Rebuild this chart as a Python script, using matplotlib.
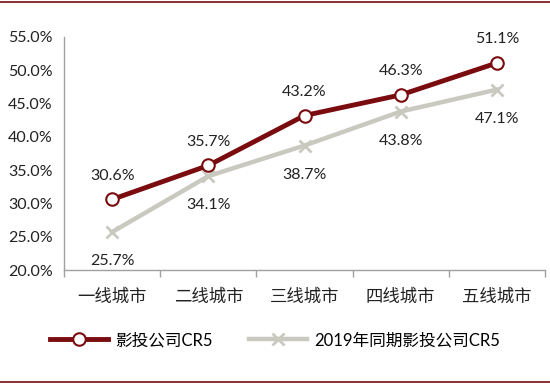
import matplotlib
matplotlib.use("Agg")
import matplotlib.pyplot as plt
from matplotlib.lines import Line2D
from matplotlib.ticker import FuncFormatter, FixedLocator

plt.rcParams['font.family'] = ['Lato', 'Noto Sans CJK SC', 'DejaVu Sans']

categories = ["一线城市", "二线城市", "三线城市", "四线城市", "五线城市"]
cr5_2020 = [30.6, 35.7, 43.2, 46.3, 51.1]
cr5_2019 = [25.7, 34.1, 38.7, 43.8, 47.1]
series_names = ["影投公司CR5", "2019年同期影投公司CR5"]

red = "#7A0C0F"
gray = "#C9C9C0"

fig = plt.figure(figsize=(5.5, 3.84), dpi=100)
ax = fig.add_axes([64/550, 1-270/384, (545-64)/550, (270-37)/384])

x = list(range(len(categories)))
ax.plot(x, cr5_2019, color=gray, lw=3.2, marker='x', ms=8, mew=2, mec=gray,
        label=series_names[1], zorder=2)
ax.plot(x, cr5_2020, color=red, lw=3.5, marker='o', ms=9, mfc='white', mec=red,
        mew=1.5, label=series_names[0], zorder=3)

for xi, v in zip(x, cr5_2020):
    ax.annotate(f"{v:.1f}%", (xi, v), xytext=(0, 12), textcoords='offset points',
                ha='center', va='bottom', fontsize=11.5, color='#222222')
for xi, v in zip(x, cr5_2019):
    ax.annotate(f"{v:.1f}%", (xi, v), xytext=(0, -16), textcoords='offset points',
                ha='center', va='top', fontsize=11.5, color='#222222')

ax.set_ylim(20, 55)
ax.set_yticks([20, 25, 30, 35, 40, 45, 50, 55])
ax.yaxis.set_major_formatter(FuncFormatter(lambda v, p: f"{v:.1f}%"))
ax.tick_params(axis='y', length=0, labelsize=11.5, pad=8, colors='#222222')
ax.set_xlim(-0.5, 4.5)
ax.set_xticks(x)
ax.set_xticklabels(categories, fontsize=12.5, color='#222222')
ax.tick_params(axis='x', which='major', length=0, pad=13)
ax.xaxis.set_minor_locator(FixedLocator([-0.5, 0.5, 1.5, 2.5, 3.5, 4.5]))
ax.tick_params(axis='x', which='minor', length=5, width=1, color='#A0A0A0', direction='out')

for s in ['top', 'right']:
    ax.spines[s].set_visible(False)
for s in ['left', 'bottom']:
    ax.spines[s].set_color('#A0A0A0')
    ax.spines[s].set_linewidth(1)

handles, labels = ax.get_legend_handles_labels()
leg = fig.legend(handles[::-1], labels[::-1], loc='center', bbox_to_anchor=(0.5, 1-340/384),
                 ncol=2, frameon=False, fontsize=12, handlelength=3.5, columnspacing=2.2,
                 handletextpad=0.4)

fig.add_artist(Line2D([0, 1], [1-1.5/384, 1-1.5/384], color=red, lw=1.2, transform=fig.transFigure))
fig.add_artist(Line2D([0, 1], [1-381.5/384, 1-381.5/384], color=red, lw=1.2, transform=fig.transFigure))

fig.savefig("out.png", dpi=100)
